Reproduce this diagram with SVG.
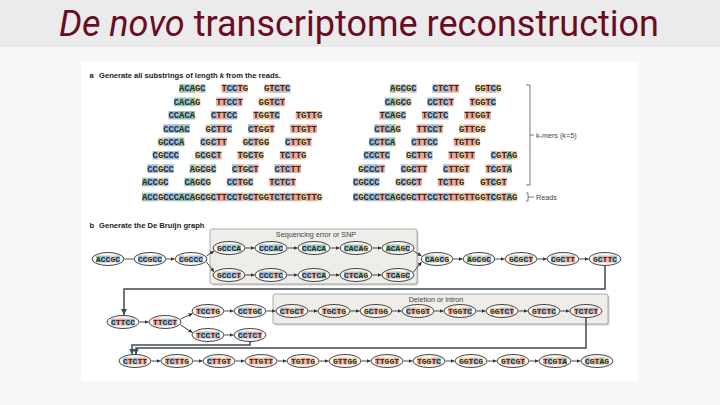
<svg xmlns="http://www.w3.org/2000/svg" xmlns:xlink="http://www.w3.org/1999/xlink" width="720" height="405" viewBox="0 0 720 405">
<style>
.km{font-family:"Liberation Mono",monospace;font-weight:bold;font-size:8.83px;fill:#2b2b2b}
.n ellipse{fill:#fcfaf5;stroke:#2e2e2e;stroke-width:0.9}
.n text{font-family:"Liberation Mono",monospace;font-weight:bold;font-size:8px;fill:#2b2b2b;text-anchor:middle}
.e{stroke:#333;stroke-width:0.9;fill:none;marker-end:url(#ah)}
.w{stroke:#3f4a54;stroke-width:1.5;fill:none;marker-end:url(#ah2)}
.hd{font-family:"Liberation Sans",Arial,sans-serif;font-weight:bold;font-size:7.6px;fill:#222}
.lb{font-family:"Liberation Sans",Arial,sans-serif;font-size:7.2px;fill:#444}
.box{fill:#eeede9;stroke:#9c9c9c;stroke-width:0.8}
.sh{fill:#cfcfcf}
</style>
<defs>
<rect id="A" y="-3.5" width="4.8" height="7" fill="#8ec89a"/>
<rect id="C" y="-3.5" width="4.8" height="7" fill="#98bfe4"/>
<rect id="G" y="-3.5" width="4.8" height="7" fill="#f5d79f"/>
<rect id="T" y="-3.5" width="4.8" height="7" fill="#f3a694"/>
<marker id="ah" markerUnits="userSpaceOnUse" markerWidth="4" markerHeight="4" viewBox="0 0 4 4" refX="4" refY="2" orient="auto"><path d="M0 0L4 2L0 4z" fill="#333"/></marker>
<marker id="ah2" markerUnits="userSpaceOnUse" markerWidth="6" markerHeight="6" viewBox="0 0 6 6" refX="6" refY="3" orient="auto"><path d="M0 0L6 3L0 6z" fill="#3f4a54"/></marker>
<pattern id="pL" patternUnits="userSpaceOnUse" x="0" y="0" width="180.2" height="405">
<rect width="180.2" height="405" fill="#98bfe4"/>
<g fill="#8ec89a"><rect x="0" width="5.3" height="405"/><rect x="37.1" width="5.3" height="405"/><rect x="47.7" width="5.3" height="405"/></g>
<g fill="#f5d79f"><rect x="15.9" width="5.3" height="405"/><rect x="53" width="5.3" height="405"/><rect x="63.6" width="5.3" height="405"/><rect x="100.7" width="5.3" height="405"/><rect x="116.6" width="10.6" height="405"/><rect x="159" width="5.3" height="405"/><rect x="174.9" width="5.3" height="405"/></g>
<g fill="#f3a694"><rect x="74.2" width="10.6" height="405"/><rect x="95.4" width="5.3" height="405"/><rect x="111.3" width="5.3" height="405"/><rect x="127.2" width="5.3" height="405"/><rect x="137.8" width="5.3" height="405"/><rect x="148.4" width="10.6" height="405"/><rect x="164.3" width="10.6" height="405"/></g>
</pattern>
<pattern id="pR" patternUnits="userSpaceOnUse" x="0" y="0" width="164.3" height="405">
<rect width="164.3" height="405" fill="#98bfe4"/>
<g fill="#8ec89a"><rect x="37.1" width="5.3" height="405"/><rect x="153.7" width="5.3" height="405"/></g>
<g fill="#f5d79f"><rect x="5.3" width="5.3" height="405"/><rect x="42.4" width="5.3" height="405"/><rect x="53" width="5.3" height="405"/><rect x="106" width="5.3" height="405"/><rect x="121.9" width="10.6" height="405"/><rect x="143.1" width="5.3" height="405"/><rect x="159" width="5.3" height="405"/></g>
<g fill="#f3a694"><rect x="26.5" width="5.3" height="405"/><rect x="63.6" width="10.6" height="405"/><rect x="84.8" width="5.3" height="405"/><rect x="95.4" width="10.6" height="405"/><rect x="111.3" width="10.6" height="405"/><rect x="132.5" width="5.3" height="405"/><rect x="148.4" width="5.3" height="405"/></g>
</pattern>
</defs>

<rect width="720" height="405" fill="#f7f7f7"/>
<rect width="720" height="47" fill="#ebebeb"/>
<text x="359" y="36" font-family="Roboto,'Liberation Sans',sans-serif" font-size="36" fill="#6a0c22" text-anchor="middle"><tspan font-style="italic">De novo</tspan> transcriptome reconstruction</text>
<rect x="81" y="62" width="557" height="319" fill="#ffffff"/>

<!-- panel a -->
<text class="hd" x="89.5" y="77.5">a</text>
<text class="hd" x="99" y="77.5">Generate all substrings of length <tspan font-style="italic">k</tspan> from the reads.</text>

<g id="kmers-left" transform="translate(142 0)">
<path fill="url(#pL)" d="M37.1 84.2h26.5v8.6h-26.5zM79.5 84.2h26.5v8.6h-26.5zM121.9 84.2h26.5v8.6h-26.5zM31.8 97.6h26.5v8.6h-26.5zM74.2 97.6h26.5v8.6h-26.5zM116.6 97.6h26.5v8.6h-26.5zM26.5 110.9h26.5v8.6h-26.5zM68.9 110.9h26.5v8.6h-26.5zM111.3 110.9h26.5v8.6h-26.5zM153.7 110.9h26.5v8.6h-26.5zM21.2 124.3h26.5v8.6h-26.5zM63.6 124.3h26.5v8.6h-26.5zM106 124.3h26.5v8.6h-26.5zM148.4 124.3h26.5v8.6h-26.5zM15.9 137.6h26.5v8.6h-26.5zM58.3 137.6h26.5v8.6h-26.5zM100.7 137.6h26.5v8.6h-26.5zM143.1 137.6h26.5v8.6h-26.5zM10.6 151h26.5v8.6h-26.5zM53 151h26.5v8.6h-26.5zM95.4 151h26.5v8.6h-26.5zM137.8 151h26.5v8.6h-26.5zM5.3 164.3h26.5v8.6h-26.5zM47.7 164.3h26.5v8.6h-26.5zM90.1 164.3h26.5v8.6h-26.5zM132.5 164.3h26.5v8.6h-26.5zM0 177.7h26.5v8.6h-26.5zM42.4 177.7h26.5v8.6h-26.5zM84.8 177.7h26.5v8.6h-26.5zM127.2 177.7h26.5v8.6h-26.5zM0 192.7h180.2v8.6h-180.2z"/>
<g class="km">
<text x="37.1" y="91.4">ACAGC</text><text x="79.5" y="91.4">TCCTG</text><text x="121.9" y="91.4">GTCTC</text>
<text x="31.8" y="104.8">CACAG</text><text x="74.2" y="104.8">TTCCT</text><text x="116.6" y="104.8">GGTCT</text>
<text x="26.5" y="118.1">CCACA</text><text x="68.9" y="118.1">CTTCC</text><text x="111.3" y="118.1">TGGTC</text><text x="153.7" y="118.1">TGTTG</text>
<text x="21.2" y="131.5">CCCAC</text><text x="63.6" y="131.5">GCTTC</text><text x="106" y="131.5">CTGGT</text><text x="148.4" y="131.5">TTGTT</text>
<text x="15.9" y="144.8">GCCCA</text><text x="58.3" y="144.8">CGCTT</text><text x="100.7" y="144.8">GCTGG</text><text x="143.1" y="144.8">CTTGT</text>
<text x="10.6" y="158.2">CGCCC</text><text x="53" y="158.2">GCGCT</text><text x="95.4" y="158.2">TGCTG</text><text x="137.8" y="158.2">TCTTG</text>
<text x="5.3" y="171.5">CCGCC</text><text x="47.7" y="171.5">AGCGC</text><text x="90.1" y="171.5">CTGCT</text><text x="132.5" y="171.5">CTCTT</text>
<text x="0" y="184.9">ACCGC</text><text x="42.4" y="184.9">CAGCG</text><text x="84.8" y="184.9">CCTGC</text><text x="127.2" y="184.9">TCTCT</text>
<text x="0" y="199.9">ACCGCCCACAGCGCTTCCTGCTGGTCTCTTGTTG</text>
</g>
</g>

<g id="kmers-right" transform="translate(353 0)">
<path fill="url(#pR)" d="M37.1 84.2h26.5v8.6h-26.5zM79.5 84.2h26.5v8.6h-26.5zM121.9 84.2h26.5v8.6h-26.5zM31.8 97.6h26.5v8.6h-26.5zM74.2 97.6h26.5v8.6h-26.5zM116.6 97.6h26.5v8.6h-26.5zM26.5 110.9h26.5v8.6h-26.5zM68.9 110.9h26.5v8.6h-26.5zM111.3 110.9h26.5v8.6h-26.5zM21.2 124.3h26.5v8.6h-26.5zM63.6 124.3h26.5v8.6h-26.5zM106 124.3h26.5v8.6h-26.5zM15.9 137.6h26.5v8.6h-26.5zM58.3 137.6h26.5v8.6h-26.5zM100.7 137.6h26.5v8.6h-26.5zM10.6 151h26.5v8.6h-26.5zM53 151h26.5v8.6h-26.5zM95.4 151h26.5v8.6h-26.5zM137.8 151h26.5v8.6h-26.5zM5.3 164.3h26.5v8.6h-26.5zM47.7 164.3h26.5v8.6h-26.5zM90.1 164.3h26.5v8.6h-26.5zM132.5 164.3h26.5v8.6h-26.5zM0 177.7h26.5v8.6h-26.5zM42.4 177.7h26.5v8.6h-26.5zM84.8 177.7h26.5v8.6h-26.5zM127.2 177.7h26.5v8.6h-26.5zM0 192.7h164.3v8.6h-164.3z"/>
<g class="km">
<text x="37.1" y="91.4">AGCGC</text><text x="79.5" y="91.4">CTCTT</text><text x="121.9" y="91.4">GGTCG</text>
<text x="31.8" y="104.8">CAGCG</text><text x="74.2" y="104.8">CCTCT</text><text x="116.6" y="104.8">TGGTC</text>
<text x="26.5" y="118.1">TCAGC</text><text x="68.9" y="118.1">TCCTC</text><text x="111.3" y="118.1">TTGGT</text>
<text x="21.2" y="131.5">CTCAG</text><text x="63.6" y="131.5">TTCCT</text><text x="106" y="131.5">GTTGG</text>
<text x="15.9" y="144.8">CCTCA</text><text x="58.3" y="144.8">CTTCC</text><text x="100.7" y="144.8">TGTTG</text>
<text x="10.6" y="158.2">CCCTC</text><text x="53" y="158.2">GCTTC</text><text x="95.4" y="158.2">TTGTT</text><text x="137.8" y="158.2">CGTAG</text>
<text x="5.3" y="171.5">GCCCT</text><text x="47.7" y="171.5">CGCTT</text><text x="90.1" y="171.5">CTTGT</text><text x="132.5" y="171.5">TCGTA</text>
<text x="0" y="184.9">CGCCC</text><text x="42.4" y="184.9">GCGCT</text><text x="84.8" y="184.9">TCTTG</text><text x="127.2" y="184.9">GTCGT</text>
<text x="0" y="199.9">CGCCCTCAGCGCTTCCTCTTGTTGGTCGTAG</text>
</g>
</g>

<g id="brackets" stroke="#555" stroke-width="0.8" fill="none">
<path d="M526 85H530V185H526M530 135H534"/>
<path d="M526 193H528V201H526M528 197H534"/>
</g>
<text class="lb" x="536" y="137.5">k-mers (k=5)</text>
<text class="lb" x="536" y="199.5">Reads</text>

<!-- panel b -->
<text class="hd" x="89.5" y="227.5">b</text>
<text class="hd" x="99" y="227.5">Generate the De Bruijn graph</text>

<g id="box-snp">
<rect class="sh" x="211.5" y="230.5" width="207" height="55" rx="2"/>
<rect class="box" x="210" y="229" width="207" height="55" rx="2"/>
<text class="lb" x="316" y="236.8" text-anchor="middle" fill="#333">Sequencing error or SNP</text>
</g>
<g id="box-del">
<rect class="sh" x="274.5" y="295.5" width="335" height="30" rx="2"/>
<rect class="box" x="273" y="294" width="335" height="30" rx="2"/>
<text class="lb" x="436" y="301.8" text-anchor="middle" font-size="6.4" fill="#333">Deletion or intron</text>
</g>

<g id="connectors">
<path class="w" d="M605 265.5V289H124V315"/>
<path class="w" d="M250 341.5V345H132V354.5"/>
<path class="w" d="M586 317.5V348H136V354.5"/>
<path class="e" d="M124.5 259H133.5M166.5 259H174.5"/>
<path class="e" d="M206.5 256L214 251"/>
<path class="e" d="M206.5 262L214 272"/>
<path class="e" d="M245.5 248H254.5"/><path class="e" d="M287.5 248H297.5"/><path class="e" d="M330.5 248H339.5"/><path class="e" d="M372.5 248H381.5"/>
<path class="e" d="M245.5 275H254.5"/><path class="e" d="M287.5 275H297.5"/><path class="e" d="M330.5 275H339.5"/><path class="e" d="M372.5 275H381.5"/>
<path class="e" d="M413.5 251L421.5 256"/>
<path class="e" d="M413.5 272L421.5 262"/>
<path class="e" d="M453.5 259H462.5"/><path class="e" d="M495.5 259H504.5"/><path class="e" d="M537.5 259H546.5"/><path class="e" d="M579.5 259H588.5"/>
<path class="e" d="M139.5 322H148.5"/>
<path class="e" d="M180.5 319L192.5 313.5"/>
<path class="e" d="M180.5 325L192.5 332.5"/>
<path class="e" d="M224.5 311H233.5"/><path class="e" d="M266.5 311H275.5"/><path class="e" d="M308.5 311H317.5"/><path class="e" d="M350.5 311H359.5"/><path class="e" d="M392.5 311H401.5"/><path class="e" d="M434.5 311H443.5"/><path class="e" d="M476.5 311H485.5"/><path class="e" d="M518.5 311H527.5"/><path class="e" d="M560.5 311H569.5"/>
<path class="e" d="M224.5 335H233.5"/>
<path class="e" d="M151.5 361H160.5"/><path class="e" d="M193.5 361H202.5"/><path class="e" d="M235.5 361H244.5"/><path class="e" d="M277.5 361H286.5"/><path class="e" d="M319.5 361H328.5"/><path class="e" d="M361.5 361H370.5"/><path class="e" d="M403.5 361H412.5"/><path class="e" d="M445.5 361H454.5"/><path class="e" d="M487.5 361H496.5"/><path class="e" d="M529.5 361H538.5"/><path class="e" d="M571.5 361H580.5"/>
</g>

<g id="nodes">
<g id="n-ACCGC" class="n" transform="translate(108 259)"><ellipse rx="16" ry="6.5"/><use href="#A" x="-12"/><use href="#C" x="-7.2"/><use href="#C" x="-2.4"/><use href="#G" x="2.4"/><use href="#C" x="7.2"/><text y="2.7">ACCGC</text></g>
<g id="n-CCGCC" class="n" transform="translate(150 259)"><ellipse rx="16" ry="6.5"/><use href="#C" x="-12"/><use href="#C" x="-7.2"/><use href="#G" x="-2.4"/><use href="#C" x="2.4"/><use href="#C" x="7.2"/><text y="2.7">CCGCC</text></g>
<g id="n-CGCCC" class="n" transform="translate(191 259)"><ellipse rx="16" ry="6.5"/><use href="#C" x="-12"/><use href="#G" x="-7.2"/><use href="#C" x="-2.4"/><use href="#C" x="2.4"/><use href="#C" x="7.2"/><text y="2.7">CGCCC</text></g>
<g id="n-GCCCA" class="n" transform="translate(229 248)"><ellipse rx="16" ry="6.5"/><use href="#G" x="-12"/><use href="#C" x="-7.2"/><use href="#C" x="-2.4"/><use href="#C" x="2.4"/><use href="#A" x="7.2"/><text y="2.7">GCCCA</text></g>
<g id="n-CCCAC" class="n" transform="translate(271 248)"><ellipse rx="16" ry="6.5"/><use href="#C" x="-12"/><use href="#C" x="-7.2"/><use href="#C" x="-2.4"/><use href="#A" x="2.4"/><use href="#C" x="7.2"/><text y="2.7">CCCAC</text></g>
<g id="n-CCACA" class="n" transform="translate(314 248)"><ellipse rx="16" ry="6.5"/><use href="#C" x="-12"/><use href="#C" x="-7.2"/><use href="#A" x="-2.4"/><use href="#C" x="2.4"/><use href="#A" x="7.2"/><text y="2.7">CCACA</text></g>
<g id="n-CACAG" class="n" transform="translate(356 248)"><ellipse rx="16" ry="6.5"/><use href="#C" x="-12"/><use href="#A" x="-7.2"/><use href="#C" x="-2.4"/><use href="#A" x="2.4"/><use href="#G" x="7.2"/><text y="2.7">CACAG</text></g>
<g id="n-ACAGC" class="n" transform="translate(398 248)"><ellipse rx="16" ry="6.5"/><use href="#A" x="-12"/><use href="#C" x="-7.2"/><use href="#A" x="-2.4"/><use href="#G" x="2.4"/><use href="#C" x="7.2"/><text y="2.7">ACAGC</text></g>
<g id="n-GCCCT" class="n" transform="translate(229 275)"><ellipse rx="16" ry="6.5"/><use href="#G" x="-12"/><use href="#C" x="-7.2"/><use href="#C" x="-2.4"/><use href="#C" x="2.4"/><use href="#T" x="7.2"/><text y="2.7">GCCCT</text></g>
<g id="n-CCCTC" class="n" transform="translate(271 275)"><ellipse rx="16" ry="6.5"/><use href="#C" x="-12"/><use href="#C" x="-7.2"/><use href="#C" x="-2.4"/><use href="#T" x="2.4"/><use href="#C" x="7.2"/><text y="2.7">CCCTC</text></g>
<g id="n-CCTCA" class="n" transform="translate(314 275)"><ellipse rx="16" ry="6.5"/><use href="#C" x="-12"/><use href="#C" x="-7.2"/><use href="#T" x="-2.4"/><use href="#C" x="2.4"/><use href="#A" x="7.2"/><text y="2.7">CCTCA</text></g>
<g id="n-CTCAG" class="n" transform="translate(356 275)"><ellipse rx="16" ry="6.5"/><use href="#C" x="-12"/><use href="#T" x="-7.2"/><use href="#C" x="-2.4"/><use href="#A" x="2.4"/><use href="#G" x="7.2"/><text y="2.7">CTCAG</text></g>
<g id="n-TCAGC" class="n" transform="translate(398 275)"><ellipse rx="16" ry="6.5"/><use href="#T" x="-12"/><use href="#C" x="-7.2"/><use href="#A" x="-2.4"/><use href="#G" x="2.4"/><use href="#C" x="7.2"/><text y="2.7">TCAGC</text></g>
<g id="n-CAGCG" class="n" transform="translate(437 259)"><ellipse rx="16" ry="6.5"/><use href="#C" x="-12"/><use href="#A" x="-7.2"/><use href="#G" x="-2.4"/><use href="#C" x="2.4"/><use href="#G" x="7.2"/><text y="2.7">CAGCG</text></g>
<g id="n-AGCGC" class="n" transform="translate(479 259)"><ellipse rx="16" ry="6.5"/><use href="#A" x="-12"/><use href="#G" x="-7.2"/><use href="#C" x="-2.4"/><use href="#G" x="2.4"/><use href="#C" x="7.2"/><text y="2.7">AGCGC</text></g>
<g id="n-GCGCT" class="n" transform="translate(521 259)"><ellipse rx="16" ry="6.5"/><use href="#G" x="-12"/><use href="#C" x="-7.2"/><use href="#G" x="-2.4"/><use href="#C" x="2.4"/><use href="#T" x="7.2"/><text y="2.7">GCGCT</text></g>
<g id="n-CGCTT" class="n" transform="translate(563 259)"><ellipse rx="16" ry="6.5"/><use href="#C" x="-12"/><use href="#G" x="-7.2"/><use href="#C" x="-2.4"/><use href="#T" x="2.4"/><use href="#T" x="7.2"/><text y="2.7">CGCTT</text></g>
<g id="n-GCTTC" class="n" transform="translate(605 259)"><ellipse rx="16" ry="6.5"/><use href="#G" x="-12"/><use href="#C" x="-7.2"/><use href="#T" x="-2.4"/><use href="#T" x="2.4"/><use href="#C" x="7.2"/><text y="2.7">GCTTC</text></g>

<g id="n-CTTCC" class="n" transform="translate(123 322)"><ellipse rx="16" ry="6.5"/><use href="#C" x="-12"/><use href="#T" x="-7.2"/><use href="#T" x="-2.4"/><use href="#C" x="2.4"/><use href="#C" x="7.2"/><text y="2.7">CTTCC</text></g>
<g id="n-TTCCT" class="n" transform="translate(165 322)"><ellipse rx="16" ry="6.5"/><use href="#T" x="-12"/><use href="#T" x="-7.2"/><use href="#C" x="-2.4"/><use href="#C" x="2.4"/><use href="#T" x="7.2"/><text y="2.7">TTCCT</text></g>
<g id="n-TCCTG" class="n" transform="translate(208 311)"><ellipse rx="16" ry="6.5"/><use href="#T" x="-12"/><use href="#C" x="-7.2"/><use href="#C" x="-2.4"/><use href="#T" x="2.4"/><use href="#G" x="7.2"/><text y="2.7">TCCTG</text></g>
<g id="n-CCTGC" class="n" transform="translate(250 311)"><ellipse rx="16" ry="6.5"/><use href="#C" x="-12"/><use href="#C" x="-7.2"/><use href="#T" x="-2.4"/><use href="#G" x="2.4"/><use href="#C" x="7.2"/><text y="2.7">CCTGC</text></g>
<g id="n-CTGCT" class="n" transform="translate(292 311)"><ellipse rx="16" ry="6.5"/><use href="#C" x="-12"/><use href="#T" x="-7.2"/><use href="#G" x="-2.4"/><use href="#C" x="2.4"/><use href="#T" x="7.2"/><text y="2.7">CTGCT</text></g>
<g id="n-TGCTG" class="n" transform="translate(334 311)"><ellipse rx="16" ry="6.5"/><use href="#T" x="-12"/><use href="#G" x="-7.2"/><use href="#C" x="-2.4"/><use href="#T" x="2.4"/><use href="#G" x="7.2"/><text y="2.7">TGCTG</text></g>
<g id="n-GCTGG" class="n" transform="translate(376 311)"><ellipse rx="16" ry="6.5"/><use href="#G" x="-12"/><use href="#C" x="-7.2"/><use href="#T" x="-2.4"/><use href="#G" x="2.4"/><use href="#G" x="7.2"/><text y="2.7">GCTGG</text></g>
<g id="n-CTGGT" class="n" transform="translate(418 311)"><ellipse rx="16" ry="6.5"/><use href="#C" x="-12"/><use href="#T" x="-7.2"/><use href="#G" x="-2.4"/><use href="#G" x="2.4"/><use href="#T" x="7.2"/><text y="2.7">CTGGT</text></g>
<g id="n-TGGTC" class="n" transform="translate(460 311)"><ellipse rx="16" ry="6.5"/><use href="#T" x="-12"/><use href="#G" x="-7.2"/><use href="#G" x="-2.4"/><use href="#T" x="2.4"/><use href="#C" x="7.2"/><text y="2.7">TGGTC</text></g>
<g id="n-GGTCT" class="n" transform="translate(502 311)"><ellipse rx="16" ry="6.5"/><use href="#G" x="-12"/><use href="#G" x="-7.2"/><use href="#T" x="-2.4"/><use href="#C" x="2.4"/><use href="#T" x="7.2"/><text y="2.7">GGTCT</text></g>
<g id="n-GTCTC" class="n" transform="translate(544 311)"><ellipse rx="16" ry="6.5"/><use href="#G" x="-12"/><use href="#T" x="-7.2"/><use href="#C" x="-2.4"/><use href="#T" x="2.4"/><use href="#C" x="7.2"/><text y="2.7">GTCTC</text></g>
<g id="n-TCTCT" class="n" transform="translate(586 311)"><ellipse rx="16" ry="6.5"/><use href="#T" x="-12"/><use href="#C" x="-7.2"/><use href="#T" x="-2.4"/><use href="#C" x="2.4"/><use href="#T" x="7.2"/><text y="2.7">TCTCT</text></g>
<g id="n-TCCTC" class="n" transform="translate(208 335)"><ellipse rx="16" ry="6.5"/><use href="#T" x="-12"/><use href="#C" x="-7.2"/><use href="#C" x="-2.4"/><use href="#T" x="2.4"/><use href="#C" x="7.2"/><text y="2.7">TCCTC</text></g>
<g id="n-CCTCT" class="n" transform="translate(250 335)"><ellipse rx="16" ry="6.5"/><use href="#C" x="-12"/><use href="#C" x="-7.2"/><use href="#T" x="-2.4"/><use href="#C" x="2.4"/><use href="#T" x="7.2"/><text y="2.7">CCTCT</text></g>

<g id="n-CTCTT" class="n" transform="translate(135 361)"><ellipse rx="16" ry="6.5"/><use href="#C" x="-12"/><use href="#T" x="-7.2"/><use href="#C" x="-2.4"/><use href="#T" x="2.4"/><use href="#T" x="7.2"/><text y="2.7">CTCTT</text></g>
<g id="n-TCTTG" class="n" transform="translate(177 361)"><ellipse rx="16" ry="6.5"/><use href="#T" x="-12"/><use href="#C" x="-7.2"/><use href="#T" x="-2.4"/><use href="#T" x="2.4"/><use href="#G" x="7.2"/><text y="2.7">TCTTG</text></g>
<g id="n-CTTGT" class="n" transform="translate(219 361)"><ellipse rx="16" ry="6.5"/><use href="#C" x="-12"/><use href="#T" x="-7.2"/><use href="#T" x="-2.4"/><use href="#G" x="2.4"/><use href="#T" x="7.2"/><text y="2.7">CTTGT</text></g>
<g id="n-TTGTT" class="n" transform="translate(261 361)"><ellipse rx="16" ry="6.5"/><use href="#T" x="-12"/><use href="#T" x="-7.2"/><use href="#G" x="-2.4"/><use href="#T" x="2.4"/><use href="#T" x="7.2"/><text y="2.7">TTGTT</text></g>
<g id="n-TGTTG" class="n" transform="translate(303 361)"><ellipse rx="16" ry="6.5"/><use href="#T" x="-12"/><use href="#G" x="-7.2"/><use href="#T" x="-2.4"/><use href="#T" x="2.4"/><use href="#G" x="7.2"/><text y="2.7">TGTTG</text></g>
<g id="n-GTTGG" class="n" transform="translate(345 361)"><ellipse rx="16" ry="6.5"/><use href="#G" x="-12"/><use href="#T" x="-7.2"/><use href="#T" x="-2.4"/><use href="#G" x="2.4"/><use href="#G" x="7.2"/><text y="2.7">GTTGG</text></g>
<g id="n-TTGGT" class="n" transform="translate(387 361)"><ellipse rx="16" ry="6.5"/><use href="#T" x="-12"/><use href="#T" x="-7.2"/><use href="#G" x="-2.4"/><use href="#G" x="2.4"/><use href="#T" x="7.2"/><text y="2.7">TTGGT</text></g>
<g id="n-TGGTC-2" class="n" transform="translate(429 361)"><ellipse rx="16" ry="6.5"/><use href="#T" x="-12"/><use href="#G" x="-7.2"/><use href="#G" x="-2.4"/><use href="#T" x="2.4"/><use href="#C" x="7.2"/><text y="2.7">TGGTC</text></g>
<g id="n-GGTCG" class="n" transform="translate(471 361)"><ellipse rx="16" ry="6.5"/><use href="#G" x="-12"/><use href="#G" x="-7.2"/><use href="#T" x="-2.4"/><use href="#C" x="2.4"/><use href="#G" x="7.2"/><text y="2.7">GGTCG</text></g>
<g id="n-GTCGT" class="n" transform="translate(513 361)"><ellipse rx="16" ry="6.5"/><use href="#G" x="-12"/><use href="#T" x="-7.2"/><use href="#C" x="-2.4"/><use href="#G" x="2.4"/><use href="#T" x="7.2"/><text y="2.7">GTCGT</text></g>
<g id="n-TCGTA" class="n" transform="translate(555 361)"><ellipse rx="16" ry="6.5"/><use href="#T" x="-12"/><use href="#C" x="-7.2"/><use href="#G" x="-2.4"/><use href="#T" x="2.4"/><use href="#A" x="7.2"/><text y="2.7">TCGTA</text></g>
<g id="n-CGTAG" class="n" transform="translate(597 361)"><ellipse rx="16" ry="6.5"/><use href="#C" x="-12"/><use href="#G" x="-7.2"/><use href="#T" x="-2.4"/><use href="#A" x="2.4"/><use href="#G" x="7.2"/><text y="2.7">CGTAG</text></g>
</g>
</svg>
